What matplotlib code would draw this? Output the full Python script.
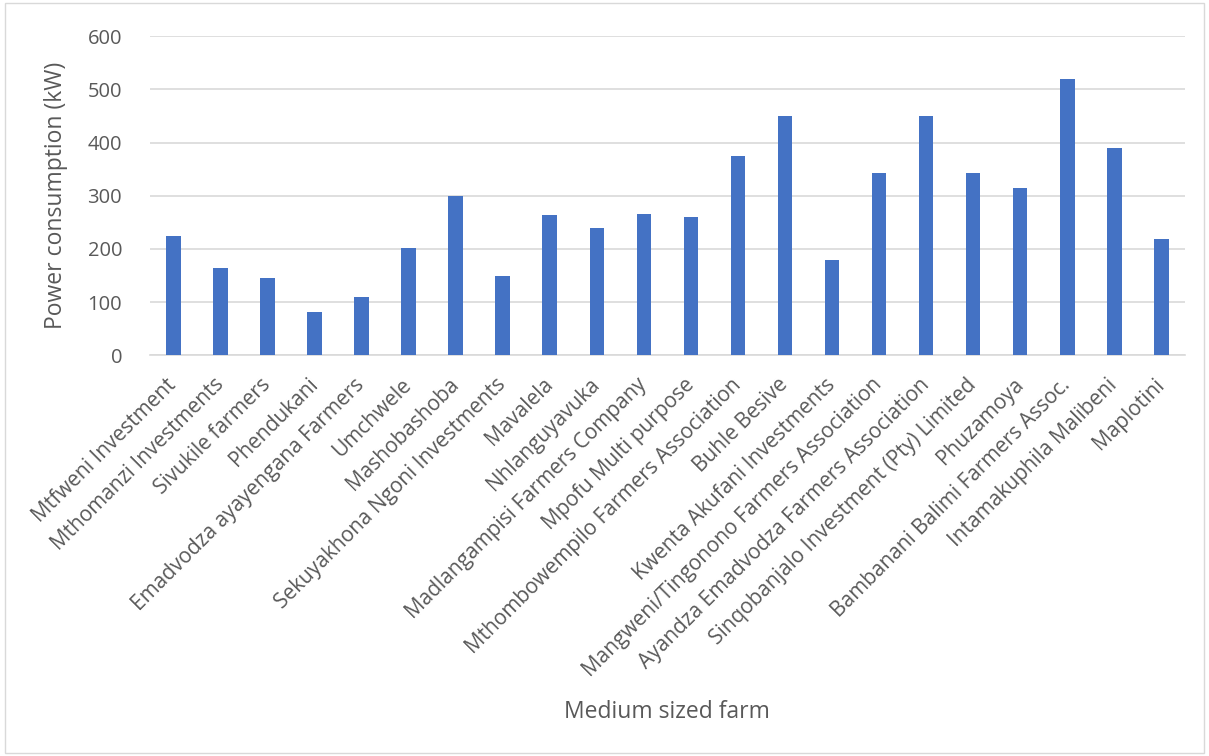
import matplotlib.pyplot as plt
import matplotlib.patches as patches

# Dados
farms = ['Mtfweni Investment', 'Mthomanzi Investments', 'Sivukile farmers',
         'Phendukani', 'Emadvodza ayayengana Farmers', 'Umchwele',
         'Mashobashoba', 'Sekuyakhona Ngoni Investments', 'Mavalela',
         'Nhlanguyavuka', 'Madlangampisi Farmers Company', 'Mpofu Multi purpose',
         'Mthombowempilo Farmers Association', 'Buhle Besive',
         'Kwenta Akufani Investments', 'Mangweni/Tingonono Farmers Association',
         'Ayandza Emadvodza Farmers Association',
         'Sinqobanjalo Investment (Pty) Limited', 'Phuzamoya',
         'Bambanani Balimi Farmers Assoc.', 'Intamakuphila Malibeni', 'Maplotini']
power_kw = [225, 165, 145, 82, 110, 202, 300, 150, 263, 240, 265, 260,
            375, 450, 180, 343, 450, 343, 315, 520, 389, 219]
yticks = [0, 100, 200, 300, 400, 500, 600]

plt.rcParams['font.family'] = ['Open Sans', 'DejaVu Sans']
txt = '#595959'

fig = plt.figure(figsize=(12.09, 7.56), dpi=100)
ax = fig.add_axes([0.124, 0.530, 0.856, 0.422])

ax.bar(range(len(farms)), power_kw, width=0.31, color='#4472C4', zorder=3)

ax.set_ylim(0, 600)
ax.set_xlim(-0.5, len(farms) - 0.5)
ax.set_yticks(yticks)
ax.set_yticklabels([str(v) for v in yticks], fontsize=14.5, color=txt)
ax.set_xticks(range(len(farms)))
ax.set_xticklabels(farms, rotation=45, ha='right', va='center',
                   rotation_mode='anchor', fontsize=15, color=txt)
ax.tick_params(axis='both', length=0)
ax.tick_params(axis='x', pad=19)
ax.tick_params(axis='y', pad=20)

ax.grid(axis='y', color='#D9D9D9', linewidth=1.2, zorder=0)
for s in ['top', 'right', 'left']:
    ax.spines[s].set_visible(False)
ax.spines['bottom'].set_color('#D9D9D9')
ax.spines['bottom'].set_linewidth(1.2)

ax.set_ylabel('Power consumption (kW)', fontsize=16.5, color=txt, labelpad=14)
fig.text(0.552, 0.058, 'Medium sized farm', fontsize=16.5, color=txt,
         ha='center', va='center')

# borda da area do grafico
fig.patches.append(patches.Rectangle((0.004, 0.004), 0.992, 0.992,
                                     transform=fig.transFigure, fill=False,
                                     edgecolor='#D9D9D9', linewidth=1))

fig.savefig('out.png', dpi=100)
